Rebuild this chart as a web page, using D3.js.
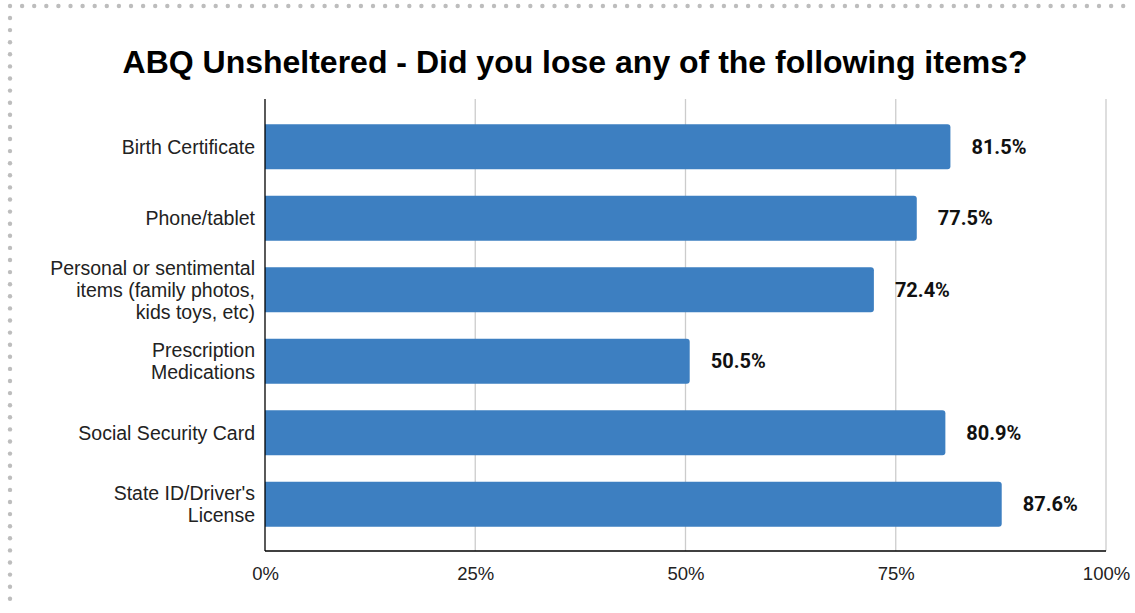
<!DOCTYPE html>
<html>
<head>
<meta charset="utf-8">
<script src="https://cdn.jsdelivr.net/npm/d3@7"></script>
<style>
  html, body { margin: 0; padding: 0; background: #fff; }
  svg { display: block; }
</style>
</head>
<body>
<svg id="chart" width="1135" height="613"></svg>
<script>
// Survey items and share of respondents who lost them
const categories = [
  ["Birth Certificate"],
  ["Phone/tablet"],
  ["Personal or sentimental", "items (family photos,", "kids toys, etc)"],
  ["Prescription", "Medications"],
  ["Social Security Card"],
  ["State ID/Driver's", "License"]
];
const values = [81.5, 77.5, 72.4, 50.5, 80.9, 87.6];
const tickValues = [0, 25, 50, 75, 100];
const tickLabels = ["0%", "25%", "50%", "75%", "100%"];
const title = "ABQ Unsheltered - Did you lose any of the following items?";

const W = 1135, H = 613;
const svg = d3.select("#chart");
const font = "'Liberation Sans', Arial, sans-serif";

// Dotted frame along the top and left edges
const frame = svg.append("g").attr("fill", "#bdbdbd");
d3.range(10, 1130, 12.1).forEach(x => frame.append("circle").attr("cx", x).attr("cy", 6).attr("r", 2.2));
d3.range(18, 608, 12.1).forEach(y => frame.append("circle").attr("cx", 10).attr("cy", y).attr("r", 2.2));

const x = d3.scaleLinear().domain([0, 100]).range([265, 1106]);
const ids = categories.map((c, i) => i);
const y = d3.scaleBand().domain(ids).range([111, 540]).paddingInner(0.37).paddingOuter(0.185);
const plotTop = 99, plotBottom = 551;

// Title
svg.append("text")
  .attr("x", 575).attr("y", 73)
  .attr("text-anchor", "middle")
  .attr("font-family", font).attr("font-weight", "bold").attr("font-size", 32)
  .attr("fill", "#000")
  .text(title);

// Vertical gridlines
svg.append("g").selectAll("line").data(tickValues.slice(1)).join("line")
  .attr("x1", d => x(d)).attr("x2", d => x(d))
  .attr("y1", plotTop).attr("y2", plotBottom)
  .attr("stroke", "#cccccc").attr("stroke-width", 1.3);

// Bars with slightly rounded ends
svg.append("g").selectAll("path").data(values).join("path")
  .attr("fill", "#3d7fc1")
  .attr("d", (v, i) => {
    const x0 = x(0), x1 = x(v), y0 = y(i), h = y.bandwidth(), r = 3;
    return `M${x0},${y0}H${x1 - r}Q${x1},${y0} ${x1},${y0 + r}V${y0 + h - r}Q${x1},${y0 + h} ${x1 - r},${y0 + h}H${x0}Z`;
  });

// Value labels
svg.append("g").selectAll("text").data(values).join("text")
  .attr("x", v => x(v) + 21)
  .attr("y", (v, i) => y(i) + y.bandwidth() / 2)
  .attr("dy", "0.35em")
  .attr("font-family", "Roboto, sans-serif").attr("font-weight", "bold").attr("font-size", 20)
  .attr("fill", "#111")
  .text(v => v.toFixed(1) + "%");

// Category labels (multi-line)
const catG = svg.append("g");
categories.forEach((lines, i) => {
  const cy = y(i) + y.bandwidth() / 2;
  const lh = 22;
  const t = catG.append("text")
    .attr("text-anchor", "end")
    .attr("font-family", font).attr("font-size", 19.5)
    .attr("fill", "#222");
  lines.forEach((ln, k) => {
    t.append("tspan")
      .attr("x", 255)
      .attr("y", cy + (k - (lines.length - 1) / 2) * lh)
      .attr("dy", "0.35em")
      .text(ln);
  });
});

// Axes lines
const xAxis = d3.axisBottom(x).tickValues(tickValues).tickFormat((d, i) => tickLabels[i]).tickSize(0).tickPadding(16);
const gx = svg.append("g").attr("transform", `translate(0,${plotBottom})`).call(xAxis);
gx.select(".domain").remove();
gx.selectAll("text").attr("font-family", font).attr("font-size", 18.5).attr("fill", "#222");

svg.append("line").attr("x1", x(0)).attr("x2", x(100)).attr("y1", plotBottom).attr("y2", plotBottom)
  .attr("stroke", "#000").attr("stroke-width", 1.3);
svg.append("line").attr("x1", x(0)).attr("x2", x(0)).attr("y1", plotTop).attr("y2", plotBottom)
  .attr("stroke", "#000").attr("stroke-width", 1.3);
</script>
</body>
</html>
